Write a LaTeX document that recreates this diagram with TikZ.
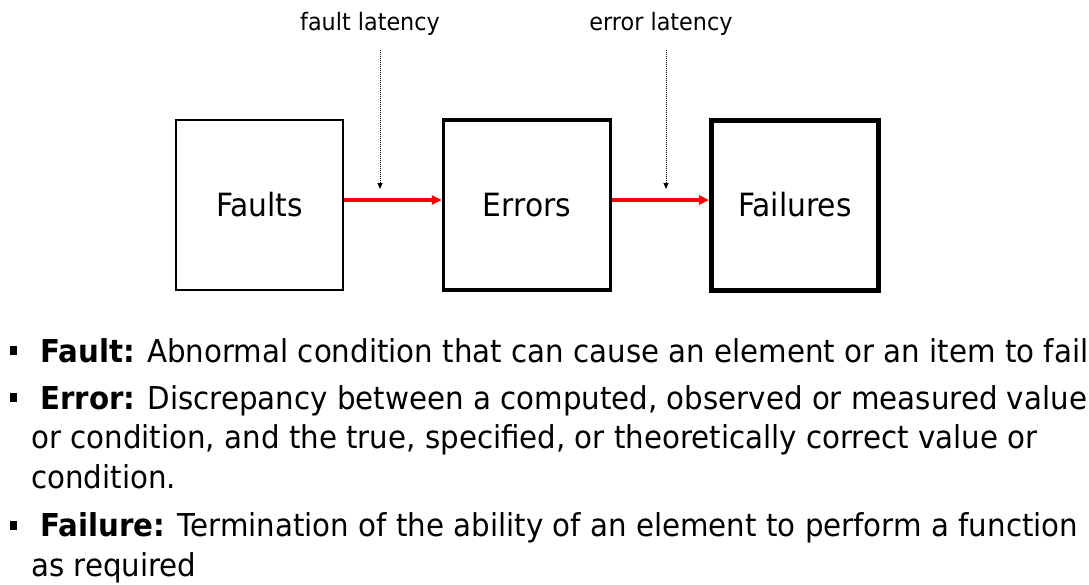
\documentclass[tikz,border=0pt]{standalone}
\usepackage{fontspec}
\setmainfont{DejaVu Sans}[FakeStretch=0.93]
\usetikzlibrary{arrows.meta,positioning}
\tikzset{
  stage/.style={draw, minimum width=167pt, minimum height=170pt, inner sep=0pt, font=\fontsize{32}{38}\selectfont},
  cause/.style={red, line width=3.3pt, -{Triangle[length=10pt,width=9pt]}},
  latency/.style={densely dotted, line width=1pt, -{Triangle[length=6pt,width=5pt]}},
  tag/.style={inner sep=0pt, anchor=base, font=\fontsize{24}{28}\selectfont},
  defn/.style={anchor=base west, align=left, inner sep=0pt, font=\fontsize{31.5}{39.5}\selectfont},
  bullet/.style={fill, inner sep=0pt, minimum width=7pt, minimum height=9pt}
}
\begin{document}
\begin{tikzpicture}[x=1pt,y=-1pt]
\useasboundingbox (0,0) rectangle (1089,584);
% the three stages
\node[stage, line width=1.8pt] (faults) at (259.5,205) {Faults};
\node[stage, line width=3.4pt] (errors) at (527,205) {Errors};
\node[stage, line width=5pt] (failures) at (795,205) {Failures};
\draw[cause] (faults.east |- 0,200) -- (errors.west |- 0,200);
\draw[cause] (errors.east |- 0,200) -- (failures.west |- 0,200);
% latencies
\node[tag] (faultlat) at (370,30) {fault latency};
\node[tag] (errorlat) at (661,30) {error latency};
\coordinate (faultpt) at (380,189);
\coordinate (errorpt) at (666,189);
\draw[latency] (faultpt |- 0,50) -- (faultpt);
\draw[latency] (errorpt |- 0,50) -- (errorpt);
% definitions (base = last line)
\node[bullet] (b1) at (13.5,350) {};
\node[bullet] (b2) at (13.5,397) {};
\node[bullet] (b3) at (13.5,525) {};
\node[defn] (fault) at (31,362) {\hspace*{9pt}\textbf{Fault:} Abnormal condition that can cause an element or an item to fail};
\node[defn] (error) at (31,488) {\hspace*{9pt}\textbf{Error:} Discrepancy between a computed, observed or measured value\\
or condition, and the true, specified, or theoretically correct value or\\
condition.};
\node[defn] (failure) at (31,576) {\hspace*{9pt}\textbf{Failure:} Termination of the ability of an element to perform a function\\
as required};
\end{tikzpicture}
\end{document}
